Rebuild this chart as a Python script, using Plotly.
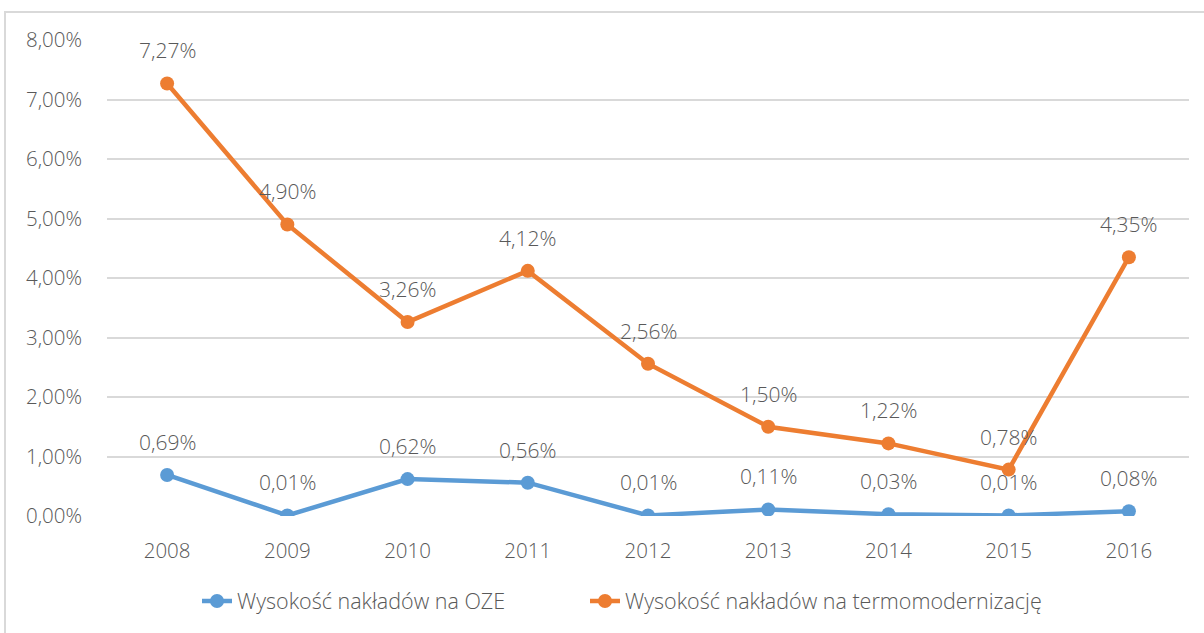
import plotly.graph_objects as go

years = ["2008", "2009", "2010", "2011", "2012", "2013", "2014", "2015", "2016"]
oze = [0.0069, 0.0001, 0.0062, 0.0056, 0.0001, 0.0011, 0.0003, 0.0001, 0.0008]
termo = [0.0727, 0.0490, 0.0326, 0.0412, 0.0256, 0.0150, 0.0122, 0.0078, 0.0435]
y_ticks = [0, 0.01, 0.02, 0.03, 0.04, 0.05, 0.06, 0.07, 0.08]
y_tick_labels = ["0,00%", "1,00%", "2,00%", "3,00%", "4,00%", "5,00%", "6,00%", "7,00%", "8,00%"]
names = ["Wysokość nakładów na OZE", "Wysokość nakładów na termomodernizację"]

BLUE = "#5B9BD5"
ORANGE = "#ED7D31"
GREY = "#595959"
FONT = "Open Sans"
WT = 300

xi = list(range(len(years)))

def pct(v):
    return f"{v*100:.2f}%".replace(".", ",")

L, R, T, B = 107, 1204 - 1189, 40, 633 - 516
W = 1204 - L - R
H = 633 - T - B

fig = go.Figure()
for vals, name, col, lg in [(oze, names[0], BLUE, "legend"), (termo, names[1], ORANGE, "legend2")]:
    fig.add_trace(go.Scatter(
        x=xi, y=vals, name=name, mode="lines+markers",
        line=dict(color=col, width=4.5),
        marker=dict(color=col, size=14),
        hoverinfo="skip", legend=lg,
    ))
    for xv, yv in zip(xi, vals):
        fig.add_annotation(x=xv, y=yv, text=pct(yv), showarrow=False,
                           yshift=33, font=dict(family=FONT, size=21, color=GREY, weight=WT))

# chart border
fig.add_shape(type="rect", xref="paper", yref="paper",
              x0=(5 - L) / W, x1=(1230 - L) / W,
              y0=(633 - B - 660) / H, y1=(633 - B - 12) / H,
              line=dict(color="#D9D9D9", width=2), fillcolor="rgba(0,0,0,0)", layer="below")

leg_font = dict(family=FONT, size=21.5, color=GREY, weight=WT)
leg_y = -(601 - (633 - B)) / H

fig.update_layout(
    width=1204, height=633,
    margin=dict(l=L, r=R, t=T, b=B),
    paper_bgcolor="white", plot_bgcolor="white",
    font=dict(family=FONT, size=20, color=GREY, weight=WT),
    showlegend=True,
    legend=dict(orientation="h", x=(240 - 43 - L) / W, xanchor="left", y=leg_y, yanchor="middle",
                font=leg_font, bgcolor="rgba(0,0,0,0)"),
    legend2=dict(orientation="h", x=(628 - 43 - L) / W, xanchor="left", y=leg_y, yanchor="middle",
                 font=leg_font, bgcolor="rgba(0,0,0,0)"),
    xaxis=dict(range=[-0.5, len(years) - 0.5], tickvals=xi, ticktext=years,
               showgrid=False, zeroline=False, showline=False,
               ticks="", ticklabelstandoff=20, tickfont=dict(size=20.5, color=GREY, weight=WT)),
    yaxis=dict(range=[0, 0.08], tickvals=y_ticks, ticktext=y_tick_labels,
               showgrid=True, gridcolor="#D9D9D9", gridwidth=1.5, zeroline=False,
               showline=False, ticks="", ticklabelstandoff=24,
               tickfont=dict(size=20.5, color=GREY, weight=WT)),
)

fig.write_html("out.html", config={"displayModeBar": False},
               post_script="document.body.style.margin='0';document.body.style.overflow='hidden';")
